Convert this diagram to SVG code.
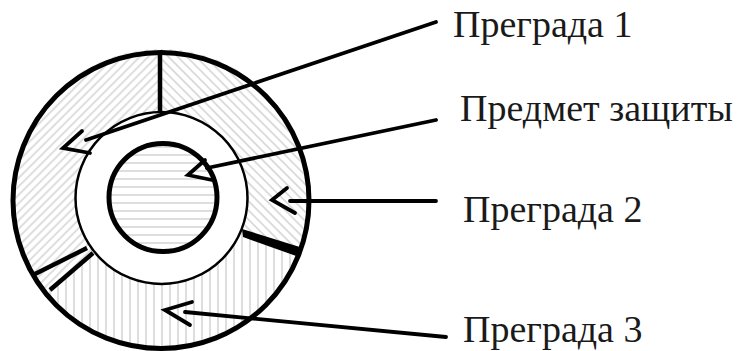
<svg xmlns="http://www.w3.org/2000/svg" width="741" height="351" viewBox="0 0 741 351">
<style>
.lbl{font-family:"Liberation Serif","Times New Roman",serif;font-size:38px;fill:#1a1a1a}
.conn{stroke:#000;stroke-width:3.8;fill:none;stroke-linecap:round;stroke-linejoin:miter}
.div{stroke:#000;stroke-width:4.5;stroke-linecap:butt}
.hl{stroke:#d6d6d6;stroke-width:1.6}
</style>
<defs>
<pattern id="hatchFwd" patternUnits="userSpaceOnUse" width="6" height="6" patternTransform="rotate(45)">
<rect width="6" height="6" fill="#fff"/><line class="hl" x1="1" y1="0" x2="1" y2="6"/>
</pattern>
<pattern id="hatchBack" patternUnits="userSpaceOnUse" width="6.5" height="6.5" patternTransform="rotate(-45)">
<rect width="6.5" height="6.5" fill="#fff"/><line class="hl" x1="1" y1="0" x2="1" y2="6.5"/>
</pattern>
<pattern id="hatchVert" patternUnits="userSpaceOnUse" width="8" height="8">
<rect width="8" height="8" fill="#fff"/><line class="hl" x1="2" y1="0" x2="2" y2="8"/>
</pattern>
<pattern id="hatchHoriz" patternUnits="userSpaceOnUse" width="8" height="8">
<rect width="8" height="8" fill="#fff"/><line class="hl" x1="0" y1="3" x2="8" y2="3"/>
</pattern>
</defs>
<rect width="741" height="351" fill="#fff"/>

<g id="barrier1">
<path d="M161,199 L42.8,291.4 A150,150 0 0 1 161,49 Z" fill="url(#hatchFwd)"/>
</g>
<g id="barrier2">
<path d="M161,199 L161,49 A150,150 0 0 1 301,252.8 Z" fill="url(#hatchBack)"/>
</g>
<g id="barrier3">
<path d="M161,199 L301,252.8 A150,150 0 0 1 42.8,291.4 Z" fill="url(#hatchVert)"/>
</g>
<g id="outer-ring">
<circle cx="161" cy="200.5" r="148" fill="none" stroke="#000" stroke-width="5"/>
<line class="div" x1="160" y1="51" x2="160" y2="114"/>
<polygon points="242,229 303,248 299,257 243,237" fill="#000"/>
<line class="div" x1="35" y1="274" x2="87" y2="248"/>
<line class="div" x1="50" y1="290" x2="93" y2="253"/>
</g>
<g id="middle-ring">
<circle cx="161.5" cy="198" r="86" fill="#fff" stroke="#000" stroke-width="2.5"/>
</g>
<g id="protected-object">
<circle cx="163" cy="197.5" r="54" fill="url(#hatchHoriz)" stroke="#000" stroke-width="5"/>
</g>

<g id="connectors">
<line class="conn" x1="436" y1="22" x2="86" y2="140"/>
<polyline class="conn" points="82,131 63,148 90,153" fill="#fff"/>
<line class="conn" x1="436" y1="120" x2="207" y2="168"/>
<polyline class="conn" points="205,160 188,175 212,180" fill="#fff"/>
<line class="conn" x1="436" y1="201" x2="290" y2="201"/>
<polyline class="conn" points="287,188 272,200 295,213"/>
<line class="conn" x1="446" y1="337" x2="185" y2="312"/>
<polyline class="conn" points="192,302 165,310 190,325"/>
</g>

<g id="labels">
<text class="lbl" x="453" y="37">Преграда 1</text>
<text class="lbl" x="460" y="121">Предмет защиты</text>
<text class="lbl" x="463" y="222">Преграда 2</text>
<text class="lbl" x="463" y="342">Преграда 3</text>
</g>
</svg>
